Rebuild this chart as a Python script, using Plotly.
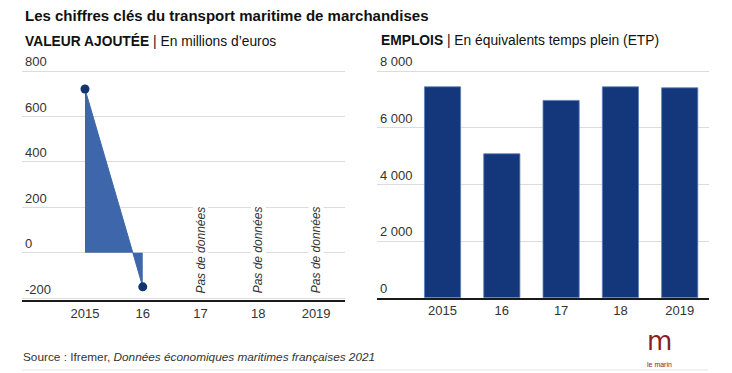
import plotly.graph_objects as go

# ---- data ----
years = ["2015", "16", "17", "18", "2019"]
valeur_ajoutee = [721, -150, None, None, None]   # millions d'euros
emplois = [7443, 5079, 6963, 7443, 7407]         # ETP
va_ticks = [-200, 0, 200, 400, 600, 800]
va_ticklabels = ["-200", "0", "200", "400", "600", "800"]
emp_ticks = [0, 2000, 4000, 6000, 8000]
emp_ticklabels = ["0", "2 000", "4 000", "6 000", "8 000"]
no_data_label = "Pas de données"

title = "Les chiffres clés du transport maritime de marchandises"
sub_left = "<b>VALEUR AJOUTÉE</b> | En millions d’euros"
sub_right = "<b>EMPLOIS</b> | En équivalents temps plein (ETP)"
source = "Source : Ifremer, <i>Données économiques maritimes françaises 2021</i>"

# page has an 8px body margin: the figure is offset by 8px in the window
OFF = 8
W, H = 732 - OFF, 373 - OFF
FONT = "Arial, Liberation Sans, sans-serif"
TXT = "#333333"
GRID = "#dcdcdc"

fig = go.Figure()

# Left: area (valeur ajoutée)
fig.add_trace(go.Scatter(
    x=years, y=valeur_ajoutee, mode="lines+markers",
    fill="tozeroy", fillcolor="#3d67aa",
    line=dict(color="#3d67aa", width=1),
    marker=dict(color="#12346f", size=9),
    connectgaps=False, hoverinfo="skip",
    xaxis="x", yaxis="y", showlegend=False,
))

# Right: bars (emplois)
fig.add_trace(go.Bar(
    x=years, y=emplois, width=0.61,
    marker=dict(color="#13377a", line=dict(color="#5b7fbd", width=0.8)),
    xaxis="x2", yaxis="y2", showlegend=False, hoverinfo="skip",
))

def px_x(p):
    return (p - OFF) / W

def px_y(p):
    return 1 - (p - OFF) / H

common_x = dict(
    type="category", categoryorder="array", categoryarray=years,
    showgrid=False, showline=True, linecolor="#1a1a1a", linewidth=2,
    ticks="", tickfont=dict(family=FONT, size=13, color=TXT),
    zeroline=False, fixedrange=True,
)
common_y = dict(
    showgrid=True, gridcolor=GRID, gridwidth=1, zeroline=False,
    showline=False, ticks="", ticklabelposition="inside top",
    tickfont=dict(family=FONT, size=13, color=TXT), fixedrange=True,
    tickmode="array",
)

fig.update_layout(
    width=W, height=H,
    margin=dict(l=0, r=0, t=0, b=0),
    paper_bgcolor="white", plot_bgcolor="rgba(0,0,0,0)",
    xaxis=dict(common_x, domain=[px_x(22), px_x(345)], range=[-1.09, 4.5],
               anchor="y"),
    yaxis=dict(common_y, domain=[px_y(300), px_y(45)], range=[-208, 914.5],
               tickvals=va_ticks, ticktext=va_ticklabels, anchor="x"),
    xaxis2=dict(common_x, domain=[px_x(377), px_x(709)], range=[-1.105, 4.494],
                anchor="y2"),
    yaxis2=dict(common_y, domain=[px_y(297.7), px_y(45)], range=[0, 8917.6],
                tickvals=emp_ticks, ticktext=emp_ticklabels, anchor="x2"),
    bargap=0.39,
)

annotations = [
    dict(text=f"<b>{title}</b>", x=px_x(23), y=px_y(15), xref="paper", yref="paper",
         xanchor="left", yanchor="middle", showarrow=False,
         font=dict(family=FONT, size=15, color="#111111")),
    dict(text=sub_left, x=px_x(23), y=px_y(41), xref="paper", yref="paper",
         xanchor="left", yanchor="middle", showarrow=False,
         font=dict(family=FONT, size=13.8, color="#111111")),
    dict(text=sub_right, x=px_x(379), y=px_y(41), xref="paper", yref="paper",
         xanchor="left", yanchor="middle", showarrow=False,
         font=dict(family=FONT, size=13.8, color="#111111")),
    dict(text=source, x=px_x(21), y=px_y(357), xref="paper", yref="paper",
         xanchor="left", yanchor="middle", showarrow=False,
         font=dict(family=FONT, size=11.8, color=TXT)),
    dict(text="m", x=px_x(659), y=px_y(341), xref="paper", yref="paper",
         xanchor="center", yanchor="middle", showarrow=False,
         font=dict(family="DejaVu Sans, sans-serif", size=26, color="#8a1c24")),
    dict(text="le marin", x=px_x(659), y=px_y(364), xref="paper", yref="paper",
         xanchor="center", yanchor="middle", showarrow=False,
         font=dict(family=FONT, size=7, color="#8a1c24")),
]
for i, v in enumerate(valeur_ajoutee):
    if v is None:
        annotations.append(dict(
            text=f"<i>{no_data_label}</i>", x=i, y=12, xref="x", yref="y",
            textangle=-90, showarrow=False, bgcolor="white", borderpad=0,
            xanchor="center", yanchor="middle",
            font=dict(family=FONT, size=12, color=TXT)))
fig.update_layout(annotations=annotations)

fig.add_shape(type="line", xref="paper", yref="paper",
              x0=px_x(22), x1=px_x(708), y0=px_y(370), y1=px_y(370),
              line=dict(color="#e6e6e6", width=1))

fig.write_html("out.html")
